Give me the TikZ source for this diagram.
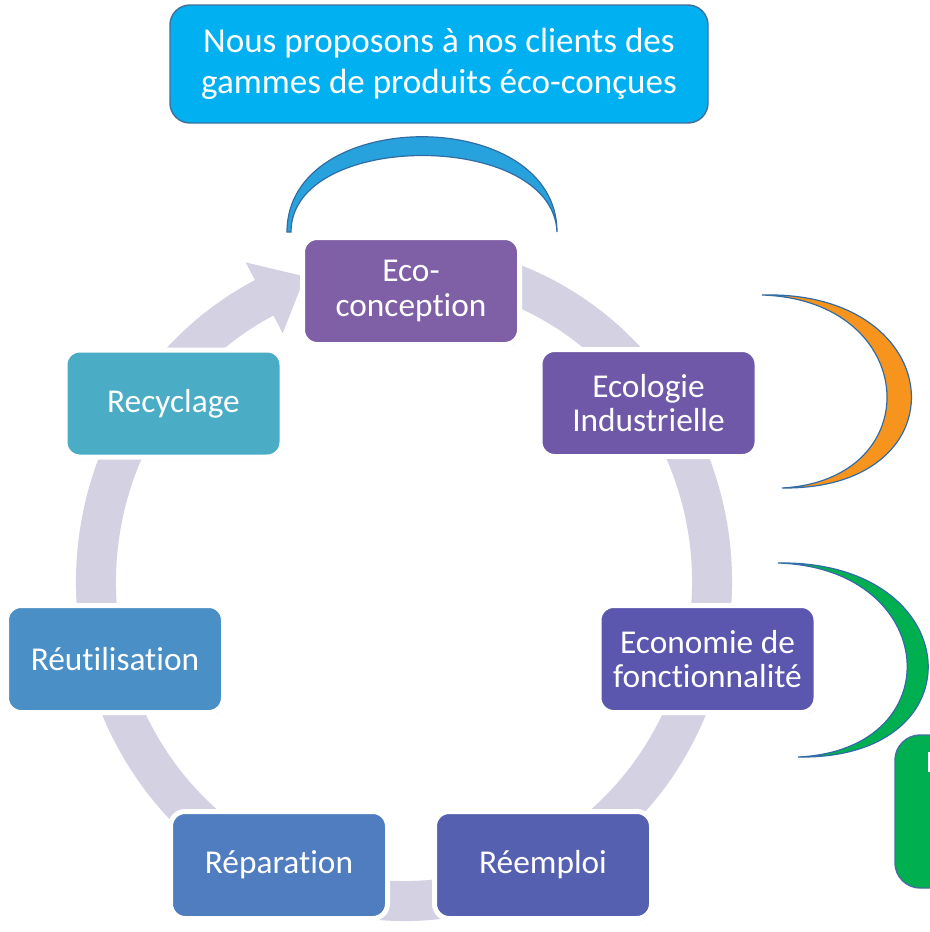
\documentclass[tikz,border=0pt]{standalone}
\usepackage{fontspec}
\setmainfont{Carlito}[Ligatures={NoCommon,NoContextual}]
\usetikzlibrary{shadows}
\definecolor{ringc}{RGB}{212,209,227}
\definecolor{topfill}{RGB}{0,176,240}
\definecolor{topedge}{RGB}{65,113,156}
\definecolor{arcblue}{RGB}{40,162,220}
\definecolor{edgeblue}{RGB}{50,108,165}
\definecolor{moonorange}{RGB}{247,148,30}
\definecolor{moongreen}{RGB}{0,176,80}
\definecolor{cEco}{RGB}{127,96,166}
\definecolor{cEcol}{RGB}{111,88,168}
\definecolor{cEcon}{RGB}{91,86,174}
\definecolor{cReem}{RGB}{85,96,176}
\definecolor{cRepa}{RGB}{79,125,191}
\definecolor{cReut}{RGB}{74,143,198}
\definecolor{cRecy}{RGB}{74,172,197}
\tikzset{
  cyclebox/.style={draw=white, line width=3.75pt, rounded corners=11pt,
    minimum width=162.75pt, minimum height=80.25pt, inner sep=2pt,
    text=white, align=center, font=\fontsize{25}{26}\selectfont,
    drop shadow={opacity=0.18, shadow xshift=0.8pt, shadow yshift=-1.6pt, fill=black}},
  topbox/.style={draw=topedge, fill=topfill, line width=1.1pt, rounded corners=15pt,
    minimum width=403.5pt, minimum height=88.5pt, text=white, align=center,
    font=\fontsize{26.3}{31}\selectfont},
  moon/.style={draw=edgeblue, line width=0.9pt}
}
\begin{document}
\begin{tikzpicture}[x=0.75pt,y=0.75pt]
\clip (0,0) rectangle (930,-932);
\fill[white] (0,0) rectangle (930,-932);

% circular arrow ring
\draw[ringc, line width=30pt, line cap=butt] (404,-582) ++(80:308 and 319)
  arc[start angle=80, end angle=-243.2, x radius=308, y radius=319];
\fill[ringc] (245.7,-262.4) -- (305,-276.5) -- (282.7,-333.2) -- cycle;

% top callout
\node[topbox] (top) at (439,-64) {Nous proposons à nos clients des\\gammes de produits éco-conçues};

% blue arc above Eco-conception
\filldraw[moon, fill=arcblue] (287,-232) .. controls (287,-105) and (557,-105) .. (557,-232)
  .. controls (553,-130) and (291,-130) .. (291,-232) -- cycle;

% orange crescent
\filldraw[moon, fill=moonorange] (762,-295) .. controls (950,-290) and (965,-490) .. (782,-488)
  .. controls (930,-480) and (920,-300) .. (762,-295) -- cycle;

% green crescent
\filldraw[moon, fill=moongreen] (778,-563) .. controls (967,-560) and (982,-760) .. (798,-757)
  .. controls (953,-750) and (940,-568) .. (778,-563) -- cycle;

% green box, cut by the right edge
\draw[fill=moongreen, draw=topedge, line width=1.1pt, rounded corners=19pt] (895,-735) rectangle (995,-888);
\fill[white] (928,-752) rectangle (932,-772);

% cycle boxes
\node[cyclebox, fill=cEco]  (eco)  at (411,-291)   {Eco-\\conception};
\node[cyclebox, fill=cEcol] (ecol) at (648.5,-403) {Ecologie\\Industrielle};
\node[cyclebox, fill=cEcon] (econ) at (707.5,-659) {Economie de\\fonctionnalité};
\node[cyclebox, fill=cReem] (reem) at (543,-865)   {Réemploi};
\node[cyclebox, fill=cRepa] (repa) at (279,-865)   {Réparation};
\node[cyclebox, fill=cReut] (reut) at (115,-659)   {Réutilisation};
\node[cyclebox, fill=cRecy] (recy) at (173.5,-403.5) {Recyclage};
\end{tikzpicture}
\end{document}
